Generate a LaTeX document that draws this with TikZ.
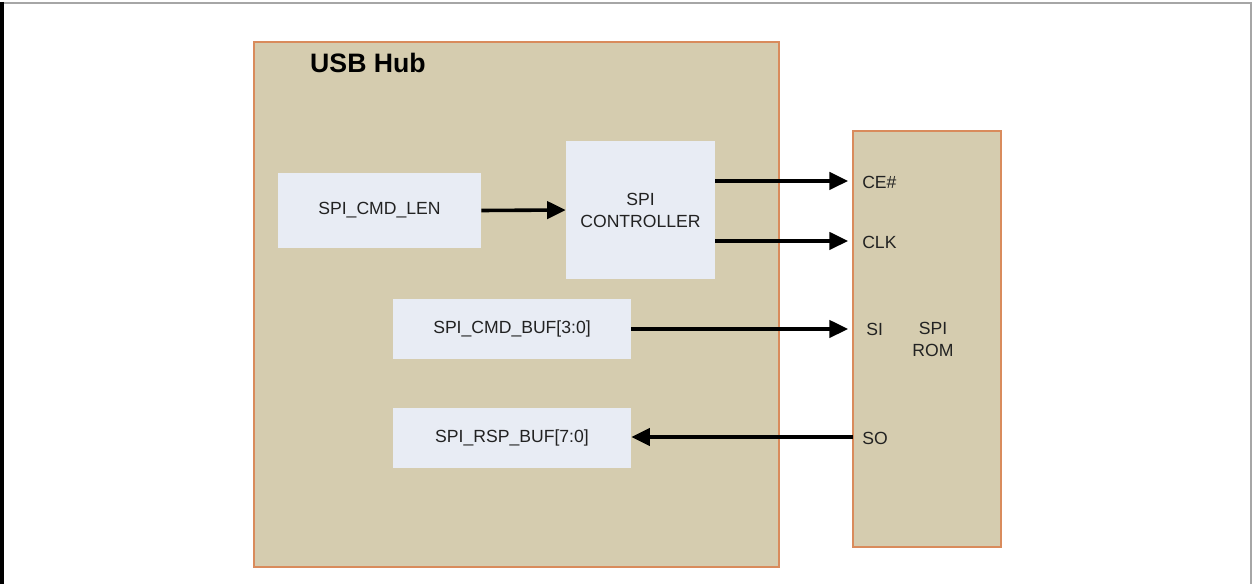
\documentclass[tikz,border=0pt]{standalone}
\usepackage{fontspec}
\setmainfont{Liberation Sans}
\usetikzlibrary{arrows.meta}
\definecolor{tan}{HTML}{D5CCAF}
\definecolor{edge}{HTML}{D98B5C}
\definecolor{boxfill}{HTML}{E8ECF4}
\definecolor{txt}{HTML}{222222}
\tikzset{
  blk/.style={fill=boxfill, draw=none, inner sep=0pt, text=txt, font=\fontsize{13.2}{15.5}\selectfont, align=center},
  cont/.style={fill=tan, draw=edge, line width=1.1pt, inner sep=0pt},
  sig/.style={line width=2.7pt, -{Triangle[length=14pt,width=13pt]}},
  pin/.style={anchor=west, inner sep=0pt, text=txt, font=\fontsize{13.2}{15.5}\selectfont},
}
\begin{document}
\begin{tikzpicture}[x=0.75pt,y=-0.75pt]
\useasboundingbox (0,0) rectangle (1253,584);
% outer frame
\draw[gray!70, line width=1.5pt] (2,3) -- (1251,3) -- (1251,584);
\draw[black, line width=2.5pt] (2,2) -- (2,584);
% containers
\node[cont, minimum width=525*0.75pt, minimum height=525*0.75pt] (hub) at (516.5,304.5) {};
\node[font=\bfseries\fontsize{20}{24}\selectfont, inner sep=0pt] (hubl) at (368,63) {USB Hub};
\node[cont, minimum width=148*0.75pt, minimum height=416*0.75pt] (rom) at (927,339) {};
\node[text=txt, font=\fontsize{13.2}{15.5}\selectfont, align=center, inner sep=0pt] (roml) at (933,339) {SPI\\[1pt]ROM};
% blocks
\node[blk, minimum width=203*0.75pt, minimum height=75*0.75pt] (len) at (379.5,210.5) {SPI\_CMD\_LEN};
\node[blk, minimum width=149*0.75pt, minimum height=138*0.75pt] (ctl) at (640.5,210) {SPI\\[1pt]CONTROLLER};
\node[blk, minimum width=238*0.75pt, minimum height=60*0.75pt] (cmd) at (512,329) {SPI\_CMD\_BUF[3:0]};
\node[blk, minimum width=238*0.75pt, minimum height=60*0.75pt] (rsp) at (512,438) {SPI\_RSP\_BUF[7:0]};
% pin labels
\node[pin] (ce) at (862,182) {CE\#};
\node[pin] (clk) at (862,242) {CLK};
\node[pin] (si) at (866,329) {SI};
\node[pin] (so) at (862,438) {SO};
% connectors
\coordinate (ceT) at (848,181);
\coordinate (clkT) at (848,241);
\coordinate (siT) at (848,329);
\coordinate (soS) at (853,437);
\draw[sig] (len.east) -- (ctl.west);
\draw[sig] (ctl.east |- ceT) -- (ceT);
\draw[sig] (ctl.east |- clkT) -- (clkT);
\draw[sig] (cmd.east) -- (siT);
\draw[sig] (soS) -- (rsp.east |- soS);
\end{tikzpicture}
\end{document}
